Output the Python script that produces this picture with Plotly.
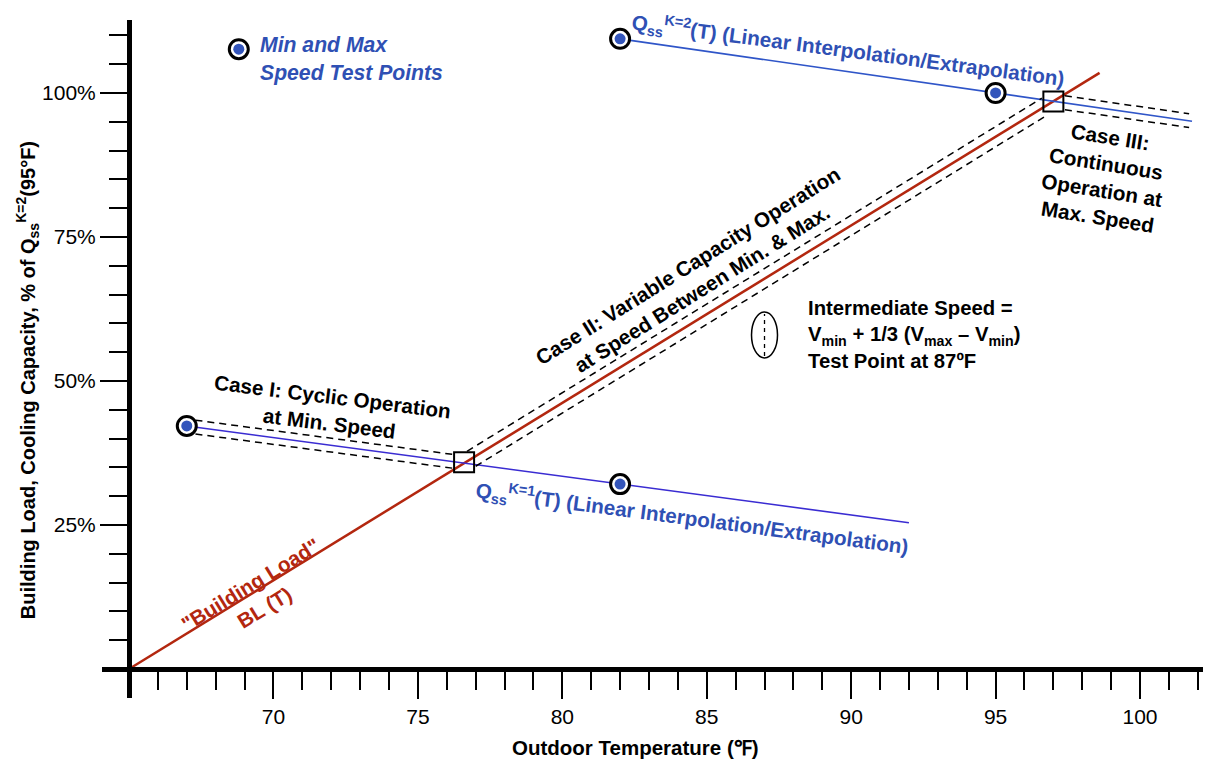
import plotly.graph_objects as go

# ---------------- data ----------------
# Min-speed (K=1) and max-speed (K=2) test points, % of Q_ss^{K=2}(95F)
min_speed_T = [67, 82]
min_speed_pct = [42.2, 32.1]
max_speed_T = [82, 95]
max_speed_pct = [109.4, 100.0]

# Capacity lines (linear interpolation / extrapolation) as drawn
k1_line_T = [67, 82, 92]
k1_line_pct = [42.2, 32.1, 25.4]
k2_line_T = [82, 95, 101.8]
k2_line_pct = [109.4, 100.0, 95.1]

# Building load line
bl_T = [65, 98.6]
bl_pct = [0, 103.5]

# Balance points (building load = capacity)
balance_T = [76.6, 97.0]
balance_pct = [35.9, 98.5]

# Dashed operating-envelope bands (None = break)
band_upper_T = [67.3, 76.3, None, 76.7, 96.6, None, 97.4, 101.7]
band_upper_pct = [43.2, 37.2, None, 37.8, 99.1, None, 99.5, 96.4]
band_lower_T = [67.3, 76.3, None, 77.0, 96.8, None, 97.4, 101.7]
band_lower_pct = [40.8, 34.8, None, 35.2, 96.2, None, 97.1, 94.0]

# Intermediate-speed test point (ellipse) and legend marker
intermediate_T = [87]
intermediate_pct = [58.0]
legend_T = [68.8]
legend_pct = [107.6]

# Axis ticks
x_major = [70, 75, 80, 85, 90, 95, 100]
x_labels = ["70", "75", "80", "85", "90", "95", "100"]
x_minor = list(range(66, 103))
y_major = [25, 50, 75, 100]
y_labels = ["25%", "50%", "75%", "100%"]
y_minor = list(range(5, 115, 5))

X_RANGE = [64.065, 102.18]
Y_RANGE = [-5.03, 112.67]

# ---------------- styles ----------------
FONT = "Liberation Sans, Arial, sans-serif"
RED = "#b3270f"
BLUE_TXT = "#2f50b4"
BLUE_K1 = "#3a2cd2"
BLUE_K2 = "#2f55c8"
DOT = "#3355bb"
TS = 20.7  # annotation text size

fig = go.Figure()

fig.add_trace(go.Scatter(x=bl_T, y=bl_pct, mode="lines",
                         line=dict(color=RED, width=2.5), hoverinfo="skip"))
fig.add_trace(go.Scatter(x=k1_line_T, y=k1_line_pct, mode="lines",
                         line=dict(color=BLUE_K1, width=1.6), hoverinfo="skip"))
fig.add_trace(go.Scatter(x=k2_line_T, y=k2_line_pct, mode="lines",
                         line=dict(color=BLUE_K2, width=1.6), hoverinfo="skip"))
for bx, by in ((band_upper_T, band_upper_pct), (band_lower_T, band_lower_pct)):
    fig.add_trace(go.Scatter(x=bx, y=by, mode="lines", connectgaps=False,
                             line=dict(color="black", width=1.5, dash="7px,5px"),
                             hoverinfo="skip"))

fig.add_trace(go.Scatter(x=balance_T, y=balance_pct, mode="markers",
                         marker=dict(symbol="square-open", size=20,
                                     color="black", line=dict(width=2, color="black")),
                         hoverinfo="skip"))

pts_T = min_speed_T + max_speed_T + legend_T
pts_pct = min_speed_pct + max_speed_pct + legend_pct
fig.add_trace(go.Scatter(x=pts_T, y=pts_pct, mode="markers",
                         marker=dict(symbol="circle", size=19, color="white",
                                     line=dict(width=3, color="black")),
                         hoverinfo="skip"))
fig.add_trace(go.Scatter(x=pts_T, y=pts_pct, mode="markers",
                         marker=dict(symbol="circle", size=11, color=DOT,
                                     line=dict(width=0)),
                         hoverinfo="skip"))

# Intermediate speed ellipse with dashed vertical line
fig.add_shape(type="circle", xref="x", yref="y",
              xsizemode="pixel", ysizemode="pixel",
              xanchor=intermediate_T[0], yanchor=intermediate_pct[0],
              x0=-13, x1=13, y0=-23, y1=23,
              line=dict(color="black", width=1.5))
fig.add_shape(type="line", xref="x", yref="y",
              xsizemode="pixel", ysizemode="pixel",
              xanchor=intermediate_T[0], yanchor=intermediate_pct[0],
              x0=0, x1=0, y0=-21, y1=21,
              line=dict(color="black", width=1.3, dash="4px,4px"))

ann = []
def txt(x, y, text, color="black", angle=0, size=TS, xanchor="center",
        align="center", italic=False, xref="x", yref="y"):
    ann.append(dict(x=x, y=y, xref=xref, yref=yref, text=text, showarrow=False,
                    textangle=angle, xanchor=xanchor, yanchor="middle", align=align,
                    font=dict(family=FONT, size=size, color=color, weight="bold",
                              style="italic" if italic else "normal")))

txt(69.47, 105.9, "Min and Max<br>Speed Test Points", color=BLUE_TXT,
    xanchor="left", align="left", italic=True, size=21.2)
txt(89.9, 107.4, "Q<sub>ss</sub><sup>K=2</sup>(T) (Linear Interpolation/Extrapolation)",
    color=BLUE_TXT, angle=7.5)
txt(84.5, 26.2, "Q<sub>ss</sub><sup>K=1</sup>(T) (Linear Interpolation/Extrapolation)",
    color=BLUE_TXT, angle=7.5)
txt(72.0, 45.0, "Case I: Cyclic Operation<br>at Min. Speed", angle=7)
txt(84.6, 68.0, "Case II: Variable Capacity Operation<br>at Speed Between Min. &amp; Max.",
    angle=-32)
txt(98.75, 85.4, "Case III:<br>Continuous<br>Operation at<br>Max. Speed", angle=9)
txt(69.45, 12.6, "\"Building Load\"<br>BL (T)", color=RED, angle=-31.5)
txt(88.44, 58.0, "Intermediate Speed =<br>V<sub>min</sub> + 1/3 (V<sub>max</sub> – V<sub>min</sub>)"
    "<br>Test Point at 87ºF", xanchor="left", align="left", size=20.3)

# axis titles
txt(0.485, -0.0737, "Outdoor Temperature (℉)", xref="paper", yref="paper", size=20.5)
txt(-0.068, 0.469, "Building Load, Cooling Capacity, % of Q<sub>ss</sub><sup>K=2</sup>(95°F)",
    angle=-90, xref="paper", yref="paper", size=20)

x_pos = (65 - X_RANGE[0]) / (X_RANGE[1] - X_RANGE[0])
y_pos = (0 - Y_RANGE[0]) / (Y_RANGE[1] - Y_RANGE[0])

fig.update_layout(
    width=1210, height=764,
    margin=dict(l=102, r=7, t=20, b=66),
    paper_bgcolor="white", plot_bgcolor="white",
    showlegend=False,
    font=dict(family=FONT, size=20, color="black"),
    annotations=ann,
    xaxis=dict(range=X_RANGE, anchor="free", position=y_pos,
               showline=True, linewidth=5, linecolor="black",
               showgrid=False, zeroline=False,
               tickmode="array", tickvals=x_major, ticktext=x_labels,
               ticks="outside", ticklen=27, tickwidth=2, tickcolor="black",
               tickfont=dict(family=FONT, size=21, color="black"),
               minor=dict(tickmode="array", tickvals=x_minor, ticks="outside",
                          ticklen=18, tickwidth=2, tickcolor="black", showgrid=False)),
    yaxis=dict(range=Y_RANGE, anchor="free", position=x_pos,
               showline=True, linewidth=5, linecolor="black",
               showgrid=False, zeroline=False,
               tickmode="array", tickvals=y_major, ticktext=y_labels,
               ticks="outside", ticklen=27, tickwidth=2, tickcolor="black",
               tickfont=dict(family=FONT, size=21, color="black"),
               minor=dict(tickmode="array", tickvals=y_minor, ticks="outside",
                          ticklen=18, tickwidth=2, tickcolor="black", showgrid=False)),
)

fig.write_html("out.html")
